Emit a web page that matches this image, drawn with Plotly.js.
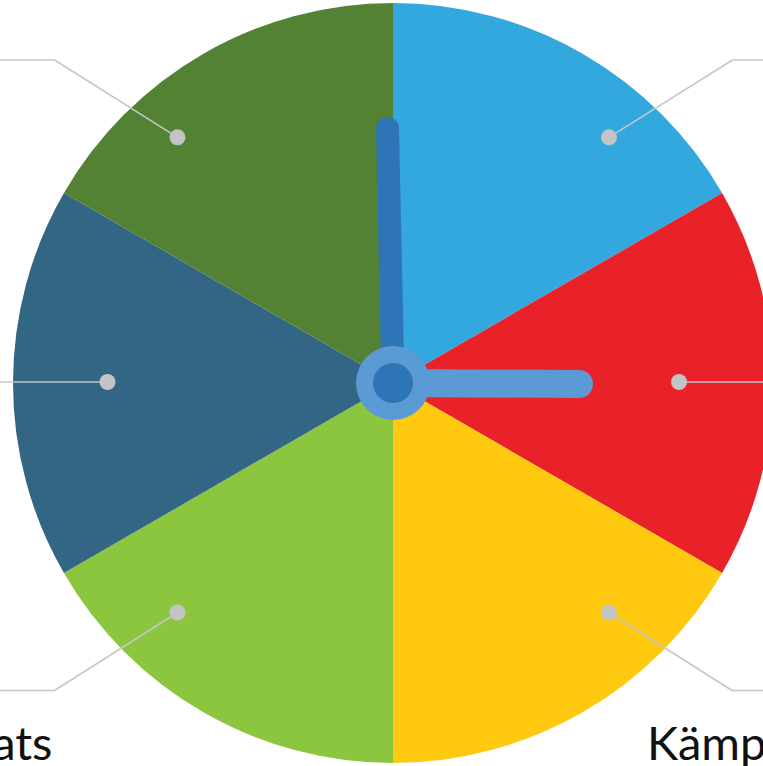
<!DOCTYPE html>
<html>
<head>
<meta charset="utf-8">
<script src="https://cdn.plot.ly/plotly-3.0.1.min.js"></script>
<style>
html, body { margin:0; padding:0; overflow:hidden; background:#fff; }
#chart { width:800px; height:766px; }
</style>
</head>
<body>
<div id="chart"></div>
<script>
// ---- data ----
const categories = ["Gemenskap", "Mod", "Kämpaglöd", "Ta plats", "Respekt", "Glädje"];
const values = [1, 1, 1, 1, 1, 1];
const sliceColors = ["#33a8df", "#e92229", "#fec90f", "#8cc63f", "#336685", "#538234"];

// ---- layout constants (pixels) ----
const W = 800, H = 766;
const CX = 393, CY = 383, R = 380;
const px = x => x / W;
const py = y => 1 - y / H;

// connector anchors: dot, kink, end, label position/anchor
const connectors = [
  {dot:[609,137.3], kink:[732.5,60],  end:[900,60],   label:null},
  {dot:[679,382],   kink:null,        end:[900,382],  label:null},
  {dot:[609,612.5], kink:[732,690.5], end:[900,690.5],label:{x:645, y:760, anchor:"left"}},
  {dot:[177.5,612.5], kink:[54.5,690.5], end:[-100,690.5], label:{x:54, y:760, anchor:"right"}},
  {dot:[107.5,382], kink:null,        end:[-100,382], label:null},
  {dot:[177.5,137.3], kink:[54.5,60], end:[-100,60],  label:null}
];

const shapes = [];
const annotations = [];
const lineCol = "#c6c6c6";

connectors.forEach((c, i) => {
  const pts = [c.dot];
  if (c.kink) pts.push(c.kink);
  pts.push(c.end);
  for (let k = 0; k < pts.length - 1; k++) {
    shapes.push({type:"line", xref:"paper", yref:"paper",
      x0:px(pts[k][0]), y0:py(pts[k][1]), x1:px(pts[k+1][0]), y1:py(pts[k+1][1]),
      line:{color:lineCol, width:1.5}, layer:"above"});
  }
  const r = 8;
  shapes.push({type:"circle", xref:"paper", yref:"paper",
    x0:px(c.dot[0]-r), x1:px(c.dot[0]+r), y0:py(c.dot[1]+r), y1:py(c.dot[1]-r),
    fillcolor:"#c4c4c4", line:{width:0}, layer:"above"});
  if (c.label) {
    annotations.push({text:categories[i], xref:"paper", yref:"paper",
      x:px(c.label.x), y:py(c.label.y), xanchor:c.label.anchor, yanchor:"bottom",
      yshift:-12, showarrow:false, font:{family:"Lato, 'Open Sans', sans-serif", size:47, color:"#111"}});
  }
});

// clock hands
const hands = [
  {end:[387.5,128.5], width:23, color:"#2e75b6"},
  {end:[579,384],     width:28, color:"#5b9bd5"}
];
hands.forEach(h => {
  shapes.push({type:"line", xref:"paper", yref:"paper",
    x0:px(CX), y0:py(CY), x1:px(h.end[0]), y1:py(h.end[1]),
    line:{color:h.color, width:h.width}, layer:"above"});
  const r = h.width / 2;
  shapes.push({type:"circle", xref:"paper", yref:"paper",
    x0:px(h.end[0]-r), x1:px(h.end[0]+r), y0:py(h.end[1]+r), y1:py(h.end[1]-r),
    fillcolor:h.color, line:{width:0}, layer:"above"});
});
// hub
[[37, "#5b9bd5"], [20, "#2e75b6"]].forEach(([r, col]) => {
  shapes.push({type:"circle", xref:"paper", yref:"paper",
    x0:px(CX-r), x1:px(CX+r), y0:py(CY+r), y1:py(CY-r),
    fillcolor:col, line:{width:0}, layer:"above"});
});

const trace = {
  type:"pie",
  labels:categories,
  values:values,
  marker:{colors:sliceColors, line:{width:0}},
  sort:false,
  direction:"clockwise",
  rotation:0,
  textinfo:"none",
  hoverinfo:"label",
  domain:{x:[px(CX-R), px(CX+R)], y:[py(CY+R), py(CY-R)]}
};

Plotly.newPlot("chart", [trace], {
  width:W, height:H,
  margin:{l:0, r:0, t:0, b:0},
  paper_bgcolor:"#fff",
  showlegend:false,
  shapes:shapes,
  annotations:annotations
}, {displayModeBar:false, staticPlot:true});
</script>
</body>
</html>
